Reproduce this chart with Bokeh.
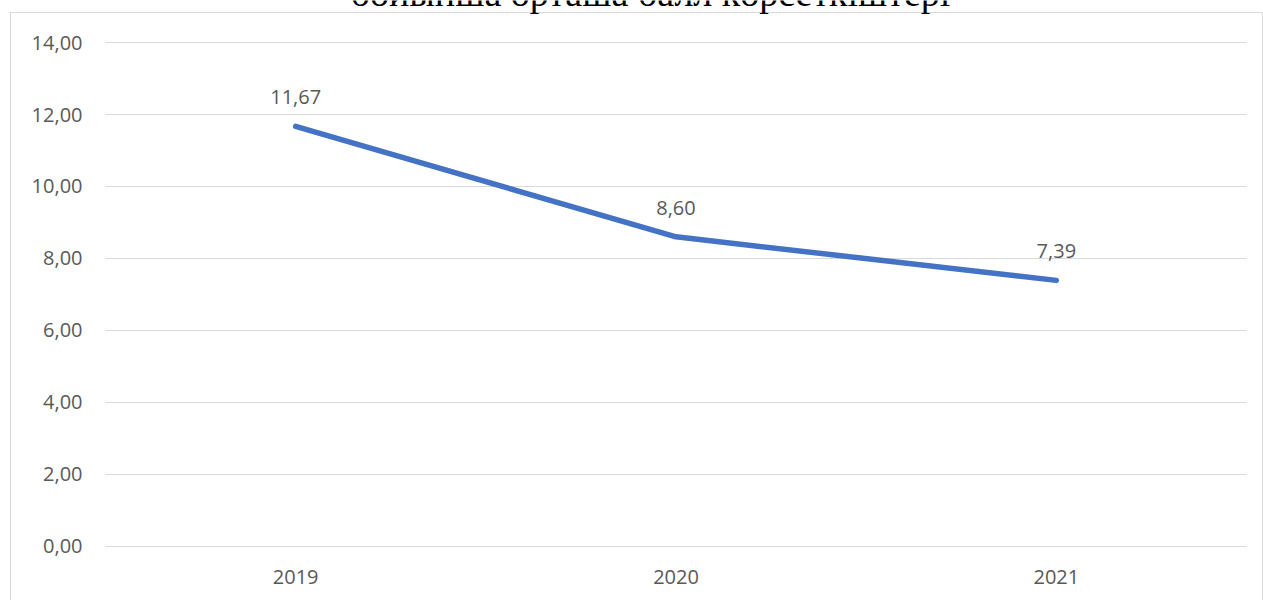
from bokeh.plotting import figure
from bokeh.models import FactorRange, Range1d, FixedTicker, Label, ColumnDataSource
from bokeh.core.properties import value
from bokeh.embed import file_html
from bokeh.resources import INLINE

title_text = "бойынша орташа балл көрсеткіштері"
years = ["2019", "2020", "2021"]
scores = [11.67, 8.60, 7.39]
score_labels = ["11,67", "8,60", "7,39"]
y_ticks = [0, 2, 4, 6, 8, 10, 12, 14]
y_tick_labels = ["0,00", "2,00", "4,00", "6,00", "8,00", "10,00", "12,00", "14,00"]

TXT = "#595959"
GRID = "#d9d9d9"
LINE = "#4472C4"

p = figure(
    width=1263, height=600,
    x_range=FactorRange(*years, range_padding=0),
    y_range=Range1d(-0.342, 15.170),
    output_backend="svg", toolbar_location=None,
    min_border_left=105, min_border_right=17, min_border_top=0, min_border_bottom=42,
)
p.margin = (0, 0, 0, 0)
p.outline_line_color = None
p.background_fill_color = None
p.border_fill_color = None
g = "linear-gradient(%s,%s)" % (GRID, GRID)
p.styles = {
    "background-color": "white",
    "background-image": ", ".join([g, g, g]),
    "background-size": "1253px 1px, 1px 600px, 1px 600px",
    "background-position": "10px 12px, 10px 12px, 1262px 12px",
    "background-repeat": "no-repeat",
}

p.xgrid.grid_line_color = None
p.ygrid.grid_line_color = GRID
p.ygrid.grid_line_width = 1
p.yaxis.ticker = FixedTicker(ticks=y_ticks)
p.yaxis.major_label_overrides = {t: l for t, l in zip(y_ticks, y_tick_labels)}

for ax in (p.xaxis[0], p.yaxis[0]):
    ax.axis_line_color = None
    ax.major_tick_line_color = None
    ax.minor_tick_line_color = None
    ax.major_tick_out = 0
    ax.major_tick_in = 0
    ax.major_label_text_font = "Open Sans"
    ax.major_label_text_font_size = "20px"
    ax.major_label_text_color = TXT
p.yaxis.major_label_standoff = 23
p.xaxis.major_label_standoff = 11

src = ColumnDataSource(dict(x=years, y=scores, lab=score_labels))
p.line("x", "y", source=src, line_width=5.5, line_color=LINE, line_cap="round", line_join="round")
p.text("x", "y", text="lab", source=src, y_offset=-29, text_align="center",
       text_baseline="middle", text_font=value("Open Sans"), text_font_size="20px",
       text_color=TXT)

p.add_layout(Label(x=650, x_units="canvas", y=-8, y_units="canvas", text=title_text,
                   text_align="center", text_baseline="alphabetic",
                   text_font="Liberation Serif", text_font_size="38px", text_color="black"))

open("out.html", "w").write(file_html(p, INLINE))
